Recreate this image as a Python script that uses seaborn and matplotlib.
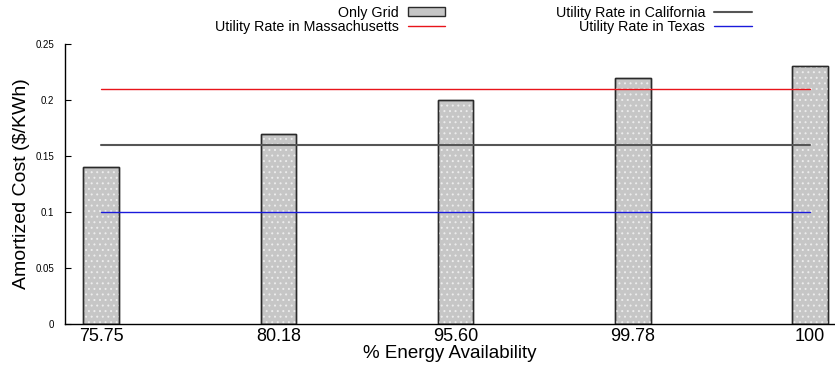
import matplotlib
matplotlib.use("Agg")
import matplotlib.pyplot as plt
import seaborn as sns
import pandas as pd
from matplotlib.patches import Rectangle

# Energy availability levels and amortized cost of a grid-only supply
availability = ["75.75", "80.18", "95.60", "99.78", "100"]
grid_cost = [0.14, 0.17, 0.20, 0.22, 0.23]

# Flat utility rates ($/KWh)
rate_massachusetts = 0.21
rate_california = 0.16
rate_texas = 0.10

sns.set_theme(style="white")
plt.rcParams["font.family"] = ["Liberation Sans", "DejaVu Sans"]
plt.rcParams["text.color"] = "black"
plt.rcParams["axes.labelcolor"] = "black"
plt.rcParams["hatch.linewidth"] = 0.7

df = pd.DataFrame({"availability": availability, "cost": grid_cost})

fig = plt.figure(figsize=(8.35, 3.68), dpi=100)
ax = fig.add_axes([65 / 835, 44 / 368, 1 - 65 / 835, 280 / 368])

sns.barplot(data=df, x="availability", y="cost", ax=ax, width=0.2,
            color="#c6c6c6", saturation=1, edgecolor="#2a2a2a",
            linewidth=1.0, label="Only Grid", zorder=2, legend=False)
if ax.get_legend() is not None:
    ax.get_legend().remove()

# dotted texture on the bars, then redraw their outlines on top
for p in list(ax.patches):
    ax.add_patch(Rectangle(p.get_xy(), p.get_width(), p.get_height(),
                           fill=False, hatch="...", edgecolor="#ececec",
                           linewidth=0, zorder=2.1))
    ax.add_patch(Rectangle(p.get_xy(), p.get_width(), p.get_height(),
                           fill=False, edgecolor="#2a2a2a",
                           linewidth=1.0, zorder=2.2))

xs = [0, len(availability) - 1]
ax.plot(xs, [rate_massachusetts] * 2, color="#e8141a", lw=1.0,
        label="Utility Rate in Massachusetts", zorder=3)
ax.plot(xs, [rate_california] * 2, color="#555555", lw=1.5,
        label="Utility Rate in California", zorder=3)
ax.plot(xs, [rate_texas] * 2, color="#1a1adb", lw=1.0,
        label="Utility Rate in Texas", zorder=3)

ax.set_xlim(-0.203, 4.14)
ax.set_ylim(0, 0.25)
ax.set_yticks([0, 0.05, 0.1, 0.15, 0.2, 0.25])
ax.set_yticklabels(["0", "0.05", "0.1", "0.15", "0.2", "0.25"])
ax.tick_params(axis="y", direction="in", length=4, width=0.8,
               labelsize=7, pad=8, left=True, colors="black")
ax.tick_params(axis="x", length=0, labelsize=13, pad=3, colors="black")
ax.set_xlabel("% Energy Availability", fontsize=13.5, labelpad=0)
ax.set_ylabel("Amortized Cost ($/KWh)", fontsize=14, labelpad=4)

for s in ["top", "right"]:
    ax.spines[s].set_visible(False)
for s in ["left", "bottom"]:
    ax.spines[s].set_color("black")
    ax.spines[s].set_linewidth(1.0)

handles, labels = ax.get_legend_handles_labels()
hmap = dict(zip(labels, handles))
order = ["Only Grid", "Utility Rate in Massachusetts",
         "Utility Rate in California", "Utility Rate in Texas"]
fig.legend([hmap[l] for l in order], order, ncol=2, loc="upper right",
           bbox_to_anchor=(752 / 835, 0.985), frameon=False,
           markerfirst=False, fontsize=10.3, handlelength=2.65,
           handletextpad=0.63, columnspacing=7.7, labelspacing=0.0,
           borderpad=0, borderaxespad=0, handleheight=0.6)

fig.savefig("out.png", dpi=100)
